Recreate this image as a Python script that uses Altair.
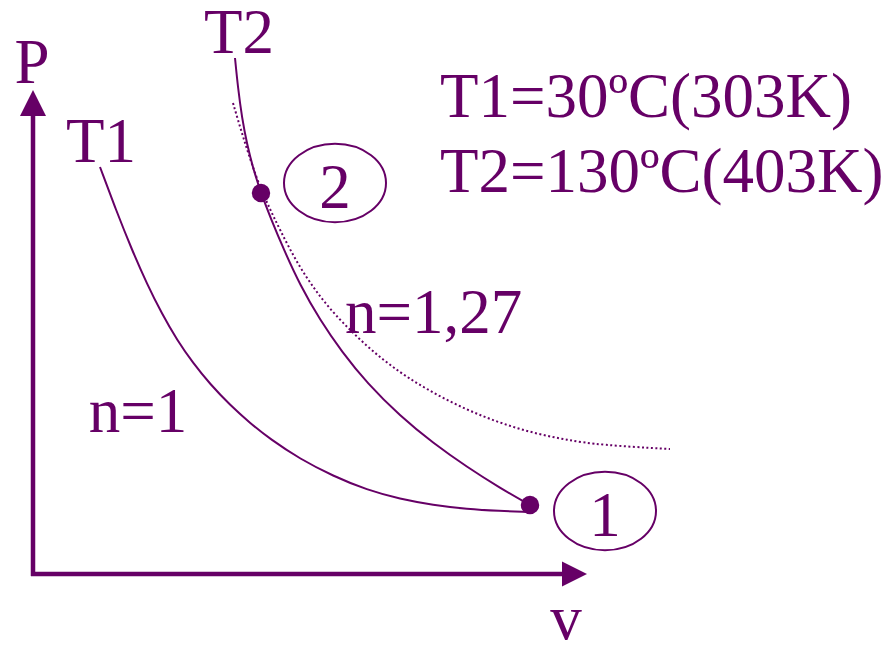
import altair as alt
import pandas as pd

PURPLE = "#660066"
FONT = "Liberation Serif"

# --- curve data (v = horizontal px, p = vertical px from top) ---
T1_V = [100, 116, 132, 147, 162, 177, 193, 210, 230, 250, 270, 300, 333, 367, 400, 433, 467, 500, 527]
T1_P = [167, 210, 250, 284, 314, 340, 363, 384, 405, 423, 439, 459, 476, 490, 499, 505, 509, 511, 512]

POLY_V = [235, 238, 242, 247, 253, 261, 271, 284, 300, 320, 342, 367, 400, 433, 467, 500, 530]
POLY_P = [58, 88, 118, 144, 168, 193, 219, 250, 285, 320, 352, 383, 416, 443, 467, 488, 505]

T2_V = [233, 243, 257, 268, 280, 297, 315, 333, 367, 400, 433, 467, 500, 533, 567, 600, 670]
T2_P = [103, 137, 180, 205, 230, 263, 290, 313, 347, 373, 393, 410, 423, 433, 440, 445, 449]

STATE_V = [530, 261]
STATE_P = [505, 193]
STATE_NAME = ["1", "2"]
ELLIPSE_V = [605, 335]
ELLIPSE_P = [511, 183]
ELLIPSE_TEXT_P = [536, 208]

AXIS_ORIGIN = (33, 574)
AXIS_P_TOP = 116
AXIS_V_RIGHT = 562
ARROW_UP = (33, 103)
ARROW_RIGHT = (574.5, 574)

LABELS = ["P", "v", "T1", "T2", "n=1", "n=1,27", "T1=30ºC(303K)", "T2=130ºC(403K)"]
LABEL_V = [32, 566, 101, 239, 138, 345, 440, 440]
LABEL_P = [83, 639, 162, 53, 432, 333, 117, 192]
LABEL_ALIGN = ["center", "center", "center", "center", "center", "left", "left", "left"]

FS = 63

xs = alt.Scale(domain=[8, 883])
ys = alt.Scale(domain=[641, 8])
X = lambda f: alt.X(f, type="quantitative", scale=xs, axis=None)
Y = lambda f: alt.Y(f, type="quantitative", scale=ys, axis=None)

def curve(vs, ps):
    return pd.DataFrame({"v": vs, "p": ps, "i": range(len(vs))})

t1 = alt.Chart(curve(T1_V, T1_P)).mark_line(
    color=PURPLE, strokeWidth=2, interpolate="basis"
).encode(x=X("v"), y=Y("p"), order="i:Q")

poly = alt.Chart(curve(POLY_V, POLY_P)).mark_line(
    color=PURPLE, strokeWidth=2, interpolate="basis"
).encode(x=X("v"), y=Y("p"), order="i:Q")

t2 = alt.Chart(curve(T2_V, T2_P)).mark_line(
    color=PURPLE, strokeWidth=2, strokeDash=[2, 2.5], interpolate="basis"
).encode(x=X("v"), y=Y("p"), order="i:Q")

axes_df = pd.DataFrame({
    "v": [AXIS_ORIGIN[0], AXIS_ORIGIN[0] - 2],
    "p": [AXIS_ORIGIN[1] + 2, AXIS_ORIGIN[1]],
    "v2": [AXIS_ORIGIN[0], AXIS_V_RIGHT],
    "p2": [AXIS_P_TOP, AXIS_ORIGIN[1]],
})
axes = alt.Chart(axes_df).mark_rule(color=PURPLE, strokeWidth=4.5).encode(
    x=X("v"), y=Y("p"), x2="v2:Q", y2="p2:Q"
)

arrow_up = alt.Chart(pd.DataFrame({"v": [ARROW_UP[0]], "p": [ARROW_UP[1]]})).mark_point(
    shape="M0,-1L1,1L-1,1Z", size=676, filled=True, color=PURPLE, opacity=1, strokeWidth=0
).encode(x=X("v"), y=Y("p"))

arrow_right = alt.Chart(pd.DataFrame({"v": [ARROW_RIGHT[0]], "p": [ARROW_RIGHT[1]]})).mark_point(
    shape="M1,0L-1,-1L-1,1Z", size=625, filled=True, color=PURPLE, opacity=1, strokeWidth=0
).encode(x=X("v"), y=Y("p"))

states = alt.Chart(pd.DataFrame({"v": STATE_V, "p": STATE_P})).mark_circle(
    size=340, color=PURPLE, opacity=1
).encode(x=X("v"), y=Y("p"))

ell_df = pd.DataFrame({"v": ELLIPSE_V, "p": ELLIPSE_P, "tp": ELLIPSE_TEXT_P, "name": STATE_NAME})
ellipses = alt.Chart(ell_df).mark_point(
    shape="M-1,0A1,0.77 0 1,1 1,0A1,0.77 0 1,1 -1,0Z", size=10404,
    filled=False, color=PURPLE, opacity=1, strokeWidth=2
).encode(x=X("v"), y=Y("p"))

ell_text = alt.Chart(ell_df).mark_text(
    font=FONT, fontSize=FS, color=PURPLE, align="center", baseline="alphabetic"
).encode(x=X("v"), y=Y("tp"), text="name:N")

lab_df = pd.DataFrame({"t": LABELS, "v": LABEL_V, "p": LABEL_P, "a": LABEL_ALIGN})
layers = []
for al in ["center", "left"]:
    layers.append(
        alt.Chart(lab_df[lab_df.a == al]).mark_text(
            font=FONT, fontSize=FS, color=PURPLE, align=al, baseline="alphabetic"
        ).encode(x=X("v"), y=Y("p"), text="t:N")
    )

chart = alt.layer(t2, t1, poly, axes, arrow_up, arrow_right, states, ellipses, ell_text, *layers).properties(
    width=875, height=633, padding=0, autosize="none", background="white"
).configure_view(stroke=None)

chart.save("out.html", embed_options={"renderer": "svg", "actions": False})
